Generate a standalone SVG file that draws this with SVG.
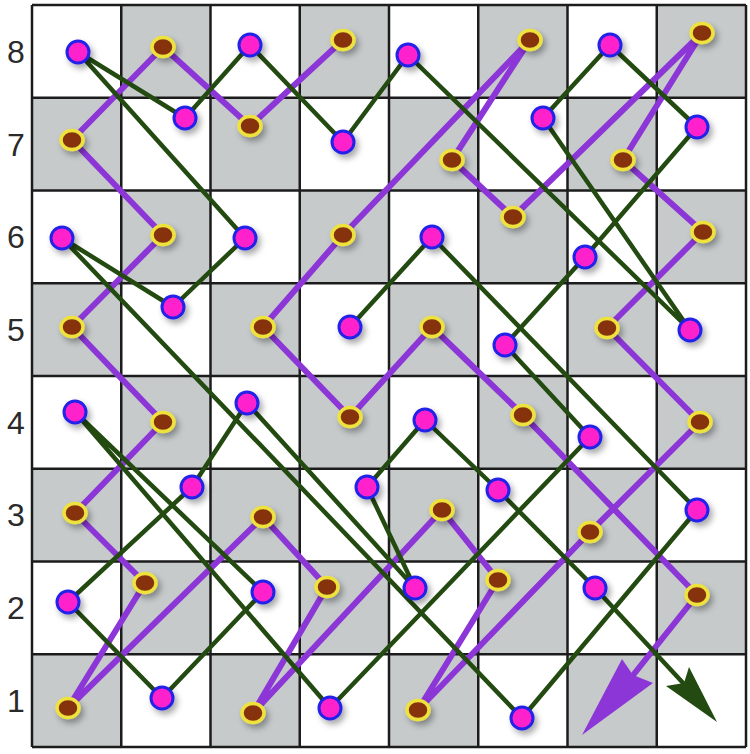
<svg xmlns="http://www.w3.org/2000/svg" width="750" height="754" viewBox="0 0 750 754">
<defs>
<style>
.lt{fill:#ffffff}
.dk{fill:#c6caca}
.gl{stroke:#1c1c1c;stroke-width:2.5;fill:none}
.lbl{font-family:"Liberation Sans",Arial,sans-serif;font-size:32px;fill:#2a2a2a;text-anchor:middle}
.gp{fill:none;stroke:#234a10;stroke-width:4.5;stroke-linejoin:round;stroke-linecap:round}
.pp{fill:none;stroke:#8c36d8;stroke-width:6;stroke-linejoin:round;stroke-linecap:round}
.ga{fill:#234a10}
.pa{fill:#8c36d8}
.pk circle{fill:#ff22cc;stroke:#2020e8;stroke-width:3}
.yl ellipse{fill:#85320a;stroke:#eee23c;stroke-width:3.5}
</style>
<filter id="sh" x="-50%" y="-50%" width="200%" height="200%">
<feDropShadow dx="3" dy="4" stdDeviation="3" flood-color="#000" flood-opacity="0.35"/>
</filter>
</defs>
<rect x="0" y="0" width="750" height="754" fill="#ffffff"/>
<g id="board">
<rect x="32" y="5" width="714" height="742" class="lt"/>
<rect x="121.25" y="5" width="89.25" height="92.75" class="dk"/>
<rect x="299.75" y="5" width="89.25" height="92.75" class="dk"/>
<rect x="478.25" y="5" width="89.25" height="92.75" class="dk"/>
<rect x="656.75" y="5" width="89.25" height="92.75" class="dk"/>
<rect x="32" y="97.75" width="89.25" height="92.75" class="dk"/>
<rect x="210.5" y="97.75" width="89.25" height="92.75" class="dk"/>
<rect x="389" y="97.75" width="89.25" height="92.75" class="dk"/>
<rect x="567.5" y="97.75" width="89.25" height="92.75" class="dk"/>
<rect x="121.25" y="190.5" width="89.25" height="92.75" class="dk"/>
<rect x="299.75" y="190.5" width="89.25" height="92.75" class="dk"/>
<rect x="478.25" y="190.5" width="89.25" height="92.75" class="dk"/>
<rect x="656.75" y="190.5" width="89.25" height="92.75" class="dk"/>
<rect x="32" y="283.25" width="89.25" height="92.75" class="dk"/>
<rect x="210.5" y="283.25" width="89.25" height="92.75" class="dk"/>
<rect x="389" y="283.25" width="89.25" height="92.75" class="dk"/>
<rect x="567.5" y="283.25" width="89.25" height="92.75" class="dk"/>
<rect x="121.25" y="376" width="89.25" height="92.75" class="dk"/>
<rect x="299.75" y="376" width="89.25" height="92.75" class="dk"/>
<rect x="478.25" y="376" width="89.25" height="92.75" class="dk"/>
<rect x="656.75" y="376" width="89.25" height="92.75" class="dk"/>
<rect x="32" y="468.75" width="89.25" height="92.75" class="dk"/>
<rect x="210.5" y="468.75" width="89.25" height="92.75" class="dk"/>
<rect x="389" y="468.75" width="89.25" height="92.75" class="dk"/>
<rect x="567.5" y="468.75" width="89.25" height="92.75" class="dk"/>
<rect x="121.25" y="561.5" width="89.25" height="92.75" class="dk"/>
<rect x="299.75" y="561.5" width="89.25" height="92.75" class="dk"/>
<rect x="478.25" y="561.5" width="89.25" height="92.75" class="dk"/>
<rect x="656.75" y="561.5" width="89.25" height="92.75" class="dk"/>
<rect x="32" y="654.25" width="89.25" height="92.75" class="dk"/>
<rect x="210.5" y="654.25" width="89.25" height="92.75" class="dk"/>
<rect x="389" y="654.25" width="89.25" height="92.75" class="dk"/>
<rect x="567.5" y="654.25" width="89.25" height="92.75" class="dk"/>
<path class="gl" d="M32 5V747M121.25 5V747M210.5 5V747M299.75 5V747M389 5V747M478.25 5V747M567.5 5V747M656.75 5V747M746 5V747M32 5H746M32 97.75H746M32 190.5H746M32 283.25H746M32 376H746M32 468.75H746M32 561.5H746M32 654.25H746M32 747H746"/>
</g>
<g id="labels">
<text class="lbl" x="16" y="63">8</text>
<text class="lbl" x="16" y="156">7</text>
<text class="lbl" x="16" y="248">6</text>
<text class="lbl" x="16" y="341">5</text>
<text class="lbl" x="16" y="434">4</text>
<text class="lbl" x="16" y="526">3</text>
<text class="lbl" x="16" y="619">2</text>
<text class="lbl" x="16" y="712">1</text>
</g>
<g id="connectors">
<polyline class="pp" points="343,40 250,126 163,47 72,140 163,235 72,327 163,422 75,513 145,583 68,708 263,517 327,587 253,713 442,510 498,580 418,710 590,532 700,422 607,328 703,232 623,160 702,33 513,217 452,160 530,40 343,235 263,327 350,417 432,327 523,415 697,595 634,674"/>
<polygon class="pa" points="582,735 622,659 633,675 653,683"/>
<polyline class="gp" points="350,327 432,237 697,510 522,718 62,238 173,307 245,238 78,52 185,118 250,45 343,142 408,55 690,330 543,118 610,45 697,127 585,257 505,345 590,437 330,708 75,412 263,592 162,698 68,602 192,487 247,403 415,588 367,487 425,420 498,490 595,588 684,684"/>
<polygon class="ga" points="717,722 666,686 684,683 689,667"/>
</g>
<g id="nodes" filter="url(#sh)">
<g id="a8" class="pk"><circle cx="78" cy="52" r="11"/></g>
<g id="c8" class="pk"><circle cx="250" cy="45" r="11"/></g>
<g id="e8" class="pk"><circle cx="408" cy="55" r="11"/></g>
<g id="g8" class="pk"><circle cx="610" cy="45" r="11"/></g>
<g id="b7" class="pk"><circle cx="185" cy="118" r="11"/></g>
<g id="d7" class="pk"><circle cx="343" cy="142" r="11"/></g>
<g id="f7" class="pk"><circle cx="543" cy="118" r="11"/></g>
<g id="h7" class="pk"><circle cx="697" cy="127" r="11"/></g>
<g id="a6" class="pk"><circle cx="62" cy="238" r="11"/></g>
<g id="c6" class="pk"><circle cx="245" cy="238" r="11"/></g>
<g id="e6" class="pk"><circle cx="432" cy="237" r="11"/></g>
<g id="g6" class="pk"><circle cx="585" cy="257" r="11"/></g>
<g id="b5" class="pk"><circle cx="173" cy="307" r="11"/></g>
<g id="d5" class="pk"><circle cx="350" cy="327" r="11"/></g>
<g id="f5" class="pk"><circle cx="505" cy="345" r="11"/></g>
<g id="h5" class="pk"><circle cx="690" cy="330" r="11"/></g>
<g id="a4" class="pk"><circle cx="75" cy="412" r="11"/></g>
<g id="c4" class="pk"><circle cx="247" cy="403" r="11"/></g>
<g id="e4" class="pk"><circle cx="425" cy="420" r="11"/></g>
<g id="g4" class="pk"><circle cx="590" cy="437" r="11"/></g>
<g id="b3" class="pk"><circle cx="192" cy="487" r="11"/></g>
<g id="d3" class="pk"><circle cx="367" cy="487" r="11"/></g>
<g id="f3" class="pk"><circle cx="498" cy="490" r="11"/></g>
<g id="h3" class="pk"><circle cx="697" cy="510" r="11"/></g>
<g id="a2" class="pk"><circle cx="68" cy="602" r="11"/></g>
<g id="c2" class="pk"><circle cx="263" cy="592" r="11"/></g>
<g id="e2" class="pk"><circle cx="415" cy="588" r="11"/></g>
<g id="g2" class="pk"><circle cx="595" cy="588" r="11"/></g>
<g id="b1" class="pk"><circle cx="162" cy="698" r="11"/></g>
<g id="d1" class="pk"><circle cx="330" cy="708" r="11"/></g>
<g id="f1" class="pk"><circle cx="522" cy="718" r="11"/></g>
<g id="b8" class="yl"><ellipse cx="163" cy="47" rx="11" ry="9.5"/></g>
<g id="d8" class="yl"><ellipse cx="343" cy="40" rx="11" ry="9.5"/></g>
<g id="f8" class="yl"><ellipse cx="530" cy="40" rx="11" ry="9.5"/></g>
<g id="h8" class="yl"><ellipse cx="702" cy="33" rx="11" ry="9.5"/></g>
<g id="a7" class="yl"><ellipse cx="72" cy="140" rx="11" ry="9.5"/></g>
<g id="c7" class="yl"><ellipse cx="250" cy="126" rx="11" ry="9.5"/></g>
<g id="e7" class="yl"><ellipse cx="452" cy="160" rx="11" ry="9.5"/></g>
<g id="g7" class="yl"><ellipse cx="623" cy="160" rx="11" ry="9.5"/></g>
<g id="b6" class="yl"><ellipse cx="163" cy="235" rx="11" ry="9.5"/></g>
<g id="d6" class="yl"><ellipse cx="343" cy="235" rx="11" ry="9.5"/></g>
<g id="f6" class="yl"><ellipse cx="513" cy="217" rx="11" ry="9.5"/></g>
<g id="h6" class="yl"><ellipse cx="703" cy="232" rx="11" ry="9.5"/></g>
<g id="a5" class="yl"><ellipse cx="72" cy="327" rx="11" ry="9.5"/></g>
<g id="c5" class="yl"><ellipse cx="263" cy="327" rx="11" ry="9.5"/></g>
<g id="e5" class="yl"><ellipse cx="432" cy="327" rx="11" ry="9.5"/></g>
<g id="g5" class="yl"><ellipse cx="607" cy="328" rx="11" ry="9.5"/></g>
<g id="b4" class="yl"><ellipse cx="163" cy="422" rx="11" ry="9.5"/></g>
<g id="d4" class="yl"><ellipse cx="350" cy="417" rx="11" ry="9.5"/></g>
<g id="f4" class="yl"><ellipse cx="523" cy="415" rx="11" ry="9.5"/></g>
<g id="h4" class="yl"><ellipse cx="700" cy="422" rx="11" ry="9.5"/></g>
<g id="a3" class="yl"><ellipse cx="75" cy="513" rx="11" ry="9.5"/></g>
<g id="c3" class="yl"><ellipse cx="263" cy="517" rx="11" ry="9.5"/></g>
<g id="e3" class="yl"><ellipse cx="442" cy="510" rx="11" ry="9.5"/></g>
<g id="g3" class="yl"><ellipse cx="590" cy="532" rx="11" ry="9.5"/></g>
<g id="b2" class="yl"><ellipse cx="145" cy="583" rx="11" ry="9.5"/></g>
<g id="d2" class="yl"><ellipse cx="327" cy="587" rx="11" ry="9.5"/></g>
<g id="f2" class="yl"><ellipse cx="498" cy="580" rx="11" ry="9.5"/></g>
<g id="h2" class="yl"><ellipse cx="697" cy="595" rx="11" ry="9.5"/></g>
<g id="a1" class="yl"><ellipse cx="68" cy="708" rx="11" ry="9.5"/></g>
<g id="c1" class="yl"><ellipse cx="253" cy="713" rx="11" ry="9.5"/></g>
<g id="e1" class="yl"><ellipse cx="418" cy="710" rx="11" ry="9.5"/></g>
</g>
</svg>
